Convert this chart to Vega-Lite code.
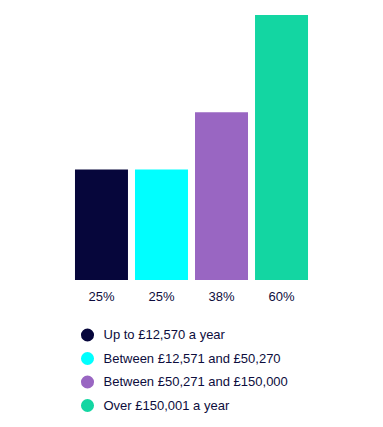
{
  "$schema": "https://vega.github.io/schema/vega-lite/v6.json",
  "autosize": {"type": "none"},
  "width": 240,
  "height": 265,
  "padding": {"left": 71.5, "top": 15, "right": 71.5, "bottom": 147},
  "background": "white",
  "config": {"view": {"stroke": null}, "font": "Liberation Sans"},
  "data": {"values": [
    {"group": "Up to £12,570 a year", "value": 25, "label": "25%"},
    {"group": "Between £12,571 and £50,270", "value": 25, "label": "25%"},
    {"group": "Between £50,271 and £150,000", "value": 38, "label": "38%"},
    {"group": "Over £150,001 a year", "value": 60, "label": "60%"}
  ]},
  "encoding": {
    "x": {"field": "group", "type": "nominal", "sort": null, "axis": null,
          "scale": {"paddingInner": 0.117, "paddingOuter": 0.058}}
  },
  "layer": [
    {
      "mark": {"type": "bar"},
      "encoding": {
        "y": {"field": "value", "type": "quantitative", "axis": null, "scale": {"domain": [0, 60], "nice": false}},
        "color": {"field": "group", "type": "nominal",
          "scale": {"domain": ["Up to £12,570 a year", "Between £12,571 and £50,270", "Between £50,271 and £150,000", "Over £150,001 a year"],
                    "range": ["#06063b", "#00ffff", "#9966c2", "#13d6a2"]},
          "legend": {"title": null, "orient": "none", "legendX": 9, "legendY": 313, "symbolType": "circle", "symbolSize": 170,
                     "symbolStrokeWidth": 0, "labelFontSize": 13, "labelColor": "#0d0d3d", "labelOffset": 9, "rowPadding": 9.5, "labelLimit": 400, "labelFont": "Liberation Sans"}}
      }
    },
    {
      "mark": {"type": "text", "dy": 17, "fontSize": 13, "color": "#0d0d3d", "baseline": "middle"},
      "encoding": {
        "y": {"datum": 0, "type": "quantitative"},
        "text": {"field": "label"}
      }
    }
  ]
}
